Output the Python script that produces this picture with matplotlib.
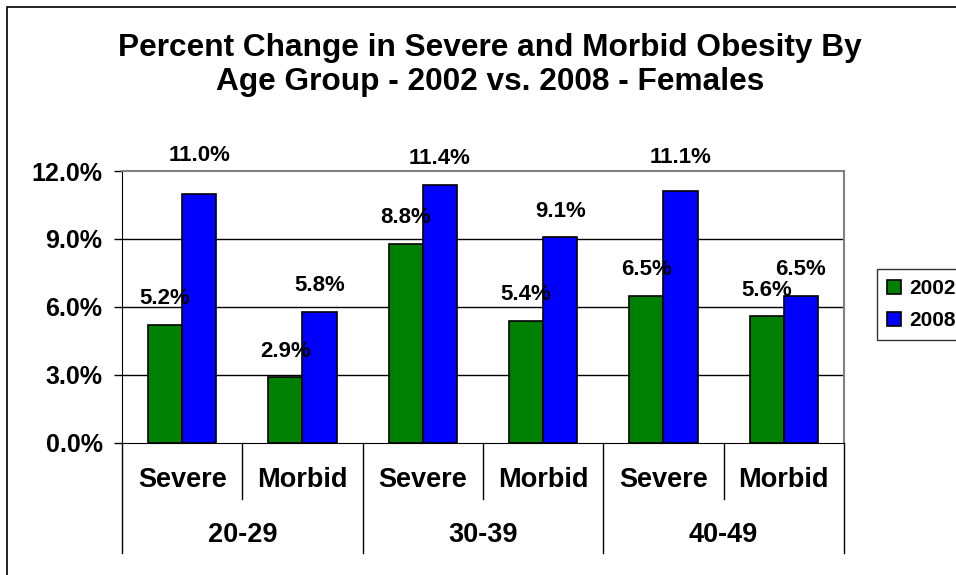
import matplotlib
matplotlib.use("Agg")
import matplotlib.pyplot as plt
import matplotlib.transforms as mtransforms
from matplotlib.patches import Rectangle

plt.rcParams['font.family'] = ['Liberation Sans', 'DejaVu Sans']
plt.rcParams['font.weight'] = 'bold'

# data
groups = ['20-29', '30-39', '40-49']
kinds = ['Severe', 'Morbid', 'Severe', 'Morbid', 'Severe', 'Morbid']
v2002 = [5.2, 2.9, 8.8, 5.4, 6.5, 5.6]
v2008 = [11.0, 5.8, 11.4, 9.1, 11.1, 6.5]
yticks = [0, 3, 6, 9, 12]

# label lift above bar top, in pixels (Excel placed a few higher)
lift2002 = [27, 26, 26, 26, 26, 26]
lift2008 = [38, 26, 26, 25, 34, 26]

fig = plt.figure(figsize=(9.56, 5.75), dpi=100)
ax = fig.add_axes([0.1276, 0.2296, 0.8828 - 0.1276, 0.7026 - 0.2296])

x = list(range(len(kinds)))
w = 0.283
b1 = ax.bar([i - w / 2 for i in x], v2002, w, color='#008000', edgecolor='black',
            linewidth=1.2, label='2002', zorder=3)
b2 = ax.bar([i + w / 2 for i in x], v2008, w, color='#0000FF', edgecolor='black',
            linewidth=1.2, label='2008', zorder=3)

for i in x:
    ax.annotate('%.1f%%' % v2002[i], (i - w / 2, v2002[i]), xytext=(0, lift2002[i] * 0.72),
                textcoords='offset points', ha='center', va='center', fontsize=16,
                fontweight='bold', zorder=5)
    ax.annotate('%.1f%%' % v2008[i], (i + w / 2, v2008[i]), xytext=(0, lift2008[i] * 0.72),
                textcoords='offset points', ha='center', va='center', fontsize=16,
                fontweight='bold', zorder=5, annotation_clip=False)

ax.set_xlim(-0.5, len(kinds) - 0.5)
ax.set_ylim(0, 12)
ax.set_yticks(yticks)
ax.set_yticklabels(['%.1f%%' % t for t in yticks], fontsize=18, fontweight='bold')
ax.tick_params(axis='y', length=6, width=1, pad=8)
ax.set_xticks([])

for t in [3, 6, 9]:
    ax.axhline(t, color='black', linewidth=1, zorder=1)
ax.spines['top'].set_color('#808080')
ax.spines['right'].set_color('#808080')
ax.spines['top'].set_linewidth(1.5)
ax.spines['right'].set_linewidth(1.5)

# category axis, two levels
trans = mtransforms.blended_transform_factory(ax.transData, ax.transAxes)
for xb in [-0.5, 1.5, 3.5, 5.5]:
    ax.plot([xb, xb], [0, -0.404], transform=trans, color='black', linewidth=1, clip_on=False)
for xb in [0.5, 2.5, 4.5]:
    ax.plot([xb, xb], [0, -0.206], transform=trans, color='black', linewidth=1, clip_on=False)
for i, k in enumerate(kinds):
    ax.text(i, -0.136, k, transform=trans, ha='center', va='center', fontsize=19.5,
            fontweight='bold')
for j, g in enumerate(groups):
    ax.text(2 * j + 0.5, -0.338, g, transform=trans, ha='center', va='center', fontsize=19.5,
            fontweight='bold')

fig.text(0.5126, 1 - 48 / 575, 'Percent Change in Severe and Morbid Obesity By',
         ha='center', va='center', fontsize=22.8, fontweight='bold')
fig.text(0.5126, 1 - 82 / 575, 'Age Group - 2002 vs. 2008 - Females',
         ha='center', va='center', fontsize=22.8, fontweight='bold')

leg = fig.legend(handles=[b1, b2], loc='upper left', bbox_to_anchor=(877 / 956, 1 - 269 / 575),
                 fontsize=15, frameon=True, fancybox=False, edgecolor='black',
                 handlelength=0.65, handleheight=0.65, handletextpad=0.4,
                 borderpad=0.5, labelspacing=0.6, borderaxespad=0)
leg.get_frame().set_linewidth(1)
for t in leg.get_texts():
    t.set_fontweight('bold')

fig.patches.append(Rectangle((7 / 956, -0.1), 1.2, 1 - 7 / 575 + 0.1, transform=fig.transFigure,
                             fill=False, edgecolor='black', linewidth=1.2))

fig.savefig('out.png', dpi=100)
